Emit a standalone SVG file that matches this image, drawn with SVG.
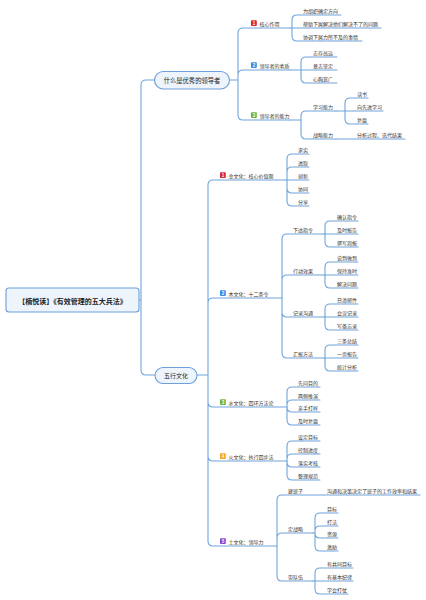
<svg xmlns="http://www.w3.org/2000/svg" width="426" height="600" viewBox="0 0 426 600">
<style>
.c{fill:none;stroke:#70a4dc;stroke-width:1.1;stroke-linecap:round}
.t{font-family:"Noto Sans CJK SC","Noto Sans",sans-serif;font-size:5px;fill:#333}
.bx{fill:#edf4fc;stroke:#6f9fd8;stroke-width:1.1}
.bt{font-family:"Noto Sans CJK SC","Noto Sans",sans-serif;fill:#222;text-anchor:middle;dominant-baseline:central}
.bn{font-family:"Liberation Sans",sans-serif;font-size:4.5px;font-weight:bold;fill:#fff;text-anchor:middle}
</style>
<rect width="426" height="600" fill="#fff"/>
<g id="connectors">
<path class="c" d="M139 300H141M141 300V85Q141 80 146 80H155M141 300V370Q141 375 146 375H155"/>
<path class="c" d="M229 80H238M238 80V33Q238 28 243 28H290M238 80V75Q238 70 243 70H290M238 80V115Q238 120 243 120H290"/>
<path class="c" d="M292 28V20Q292 15 297 15H341M290 28H381M292 28V36Q292 41 297 41H362"/>
<path class="c" d="M290 70H301M301 70V62Q301 57 306 57H337M301 70H337M301 70V78Q301 83 306 83H337"/>
<path class="c" d="M290 120H301M301 120V116Q301 111 306 111H336M301 120V134Q301 139 306 139H336"/>
<path class="c" d="M336 111H345M345 111V103Q345 98 350 98H368M336 111H383M345 111V119Q345 124 350 124H368"/>
<path class="c" d="M336 139H405"/>
<path class="c" d="M197 375H208M208 375V185Q208 180 213 180H287M208 375V303Q208 298 213 298H282M208 375V402Q208 407 213 407H287M208 375V456Q208 461 213 461H287M208 375V541Q208 546 213 546H277"/>
<path class="c" d="M287 180V159Q287 154 292 154H309M287 180V172Q287 167 292 167H309M287 180H309M287 180V188Q287 193 292 193H309M287 180V201Q287 206 292 206H309"/>
<path class="c" d="M282 298V239Q282 234 287 234H324M282 298V280Q282 275 287 275H324M282 298V312Q282 317 287 317H324M282 298V353Q282 358 287 358H324"/>
<path class="c" d="M324 234H325M325 234V226Q325 221 330 221H358M324 234H358M325 234V242Q325 247 330 247H358"/>
<path class="c" d="M324 275H325M325 275V267Q325 262 330 262H358M324 275H358M325 275V283Q325 288 330 288H358"/>
<path class="c" d="M324 317H325M325 317V309Q325 304 330 304H358M324 317H358M325 317V325Q325 330 330 330H358"/>
<path class="c" d="M324 358H325M325 358V350Q325 345 330 345H358M324 358H358M325 358V366Q325 371 330 371H358"/>
<path class="c" d="M287 407V392Q287 387 292 387H320M287 407V405Q287 400 292 400H320M287 407V407Q287 412 292 412H320M287 407V420Q287 425 292 425H320"/>
<path class="c" d="M287 461V446Q287 441 292 441H320M287 461V459Q287 454 292 454H320M287 461V462Q287 467 292 467H320M287 461V475Q287 480 292 480H320"/>
<path class="c" d="M277 546V500Q277 495 282 495H420M277 546V538Q277 533 282 533H313M277 546V576Q277 581 282 581H313"/>
<path class="c" d="M313 533H315M315 533V518Q315 513 320 513H338M315 533V531Q315 526 320 526H338M315 533V533Q315 538 320 538H338M315 533V546Q315 551 320 551H338"/>
<path class="c" d="M313 581H315M315 581V573Q315 568 320 568H353M313 581H353M315 581V589Q315 594 320 594H348"/>
</g>
<g id="root"><rect class="bx" x="6" y="288" width="133" height="24" rx="3"/><text class="bt" x="72.5" y="300.5" font-size="7" font-weight="bold">【楠悦读】《有效管理的五大兵法》</text></g>
<g id="leader"><rect class="bx" x="154.5" y="71.5" width="75" height="17.5" rx="8.75"/><text class="bt" x="192" y="80.5" font-size="6.3">什么是优秀的领导者</text></g>
<g id="wuxing"><rect class="bx" x="155" y="367.5" width="42" height="16" rx="8"/><text class="bt" x="176" y="375.5" font-size="6">五行文化</text></g>

<g id="n-hexin"><rect x="251" y="20.2" width="5.8" height="5.8" rx="0.8" fill="#d7262c"/><text class="bn" x="253.9" y="24.8">1</text><text class="t" x="259.5" y="25.5">核心作用</text></g>
<g id="n-h1"><text class="t" x="303" y="12.5">为组织确定方向</text></g>
<g id="n-h2"><text class="t" x="303" y="25.5">帮助下属解决他们解决不了的问题</text></g>
<g id="n-h3"><text class="t" x="303" y="38.5">协调下属力所不及的事情</text></g>

<g id="n-suzhi"><rect x="251" y="62.2" width="5.8" height="5.8" rx="0.8" fill="#3a8de6"/><text class="bn" x="253.9" y="66.8">2</text><text class="t" x="259.5" y="67.5">领导者的素质</text></g>
<g id="n-s1"><text class="t" x="313" y="54.5">志存高远</text></g>
<g id="n-s2"><text class="t" x="313" y="67.5">意志坚定</text></g>
<g id="n-s3"><text class="t" x="313" y="80.5">心胸宽广</text></g>

<g id="n-nengli"><rect x="251" y="112.2" width="5.8" height="5.8" rx="0.8" fill="#6db33f"/><text class="bn" x="253.9" y="116.8">3</text><text class="t" x="259.5" y="117.5">领导者的能力</text></g>
<g id="n-xuexi"><text class="t" x="313" y="108.5">学习能力</text></g>
<g id="n-x1"><text class="t" x="357" y="95.5">读书</text></g>
<g id="n-x2"><text class="t" x="357" y="108.5">向先进学习</text></g>
<g id="n-x3"><text class="t" x="357" y="121.5">复盘</text></g>
<g id="n-zhanlue"><text class="t" x="313" y="136.5">战略能力</text></g>
<g id="n-z1"><text class="t" x="357" y="136.5">分析过程、迭代结果</text></g>

<g id="n-jin"><rect x="220" y="172.2" width="5.8" height="5.8" rx="0.8" fill="#d7262c"/><text class="bn" x="222.9" y="176.8">1</text><text class="t" x="228.5" y="177.5">金文化：核心价值观</text></g>
<g id="n-j1"><text class="t" x="298" y="151.5">求实</text></g>
<g id="n-j2"><text class="t" x="298" y="164.5">进取</text></g>
<g id="n-j3"><text class="t" x="298" y="177.5">创新</text></g>
<g id="n-j4"><text class="t" x="298" y="190.5">协同</text></g>
<g id="n-j5"><text class="t" x="298" y="203.5">分享</text></g>

<g id="n-mu"><rect x="220" y="290.2" width="5.8" height="5.8" rx="0.8" fill="#3a8de6"/><text class="bn" x="222.9" y="294.8">2</text><text class="t" x="228.5" y="295.5">木文化：十二条令</text></g>
<g id="n-xiada"><text class="t" x="293" y="231.5">下达指令</text></g>
<g id="n-xd1"><text class="t" x="337" y="218.5">确认指令</text></g>
<g id="n-xd2"><text class="t" x="337" y="231.5">及时报告</text></g>
<g id="n-xd3"><text class="t" x="337" y="244.5">撰写周报</text></g>
<g id="n-xingdong"><text class="t" x="293" y="272.5">行动效果</text></g>
<g id="n-xg1"><text class="t" x="337" y="259.5">说到做到</text></g>
<g id="n-xg2"><text class="t" x="337" y="272.5">保持准时</text></g>
<g id="n-xg3"><text class="t" x="337" y="285.5">解决问题</text></g>
<g id="n-jilu"><text class="t" x="293" y="314.5">记录沟通</text></g>
<g id="n-jl1"><text class="t" x="337" y="301.5">日清邮件</text></g>
<g id="n-jl2"><text class="t" x="337" y="314.5">会议记录</text></g>
<g id="n-jl3"><text class="t" x="337" y="327.5">写备忘录</text></g>
<g id="n-huibao"><text class="t" x="293" y="355.5">汇报方法</text></g>
<g id="n-hb1"><text class="t" x="337" y="342.5">三条总结</text></g>
<g id="n-hb2"><text class="t" x="337" y="355.5">一页报告</text></g>
<g id="n-hb3"><text class="t" x="337" y="368.5">统计分析</text></g>

<g id="n-shui"><rect x="220" y="399.2" width="5.8" height="5.8" rx="0.8" fill="#6db33f"/><text class="bn" x="222.9" y="403.8">3</text><text class="t" x="228.5" y="404.5">水文化：四环方法论</text></g>
<g id="n-sh1"><text class="t" x="298" y="384.5">先问目的</text></g>
<g id="n-sh2"><text class="t" x="298" y="397.5">两侧推演</text></g>
<g id="n-sh3"><text class="t" x="298" y="409.5">亲手打样</text></g>
<g id="n-sh4"><text class="t" x="298" y="422.5">及时复盘</text></g>

<g id="n-huo"><rect x="220" y="453.2" width="5.8" height="5.8" rx="0.8" fill="#f5a623"/><text class="bn" x="222.9" y="457.8">4</text><text class="t" x="228.5" y="458.5">火文化：执行四步法</text></g>
<g id="n-hu1"><text class="t" x="298" y="438.5">设定目标</text></g>
<g id="n-hu2"><text class="t" x="298" y="451.5">控制进度</text></g>
<g id="n-hu3"><text class="t" x="298" y="464.5">落实考核</text></g>
<g id="n-hu4"><text class="t" x="298" y="477.5">整理规范</text></g>

<g id="n-tu"><rect x="220" y="538.2" width="5.8" height="5.8" rx="0.8" fill="#8b45d6"/><text class="bn" x="222.9" y="542.8">5</text><text class="t" x="228.5" y="543.5">土文化：领导力</text></g>
<g id="n-banzi"><text class="t" x="288" y="492.5">建班子</text></g>
<g id="n-bz1"><text class="t" x="327" y="492.5">沟通和决策决定了班子的工作效率和结果</text></g>
<g id="n-zhanlve"><text class="t" x="288" y="530.5">定战略</text></g>
<g id="n-zl1"><text class="t" x="327" y="510.5">目标</text></g>
<g id="n-zl2"><text class="t" x="327" y="523.5">打法</text></g>
<g id="n-zl3"><text class="t" x="327" y="535.5">资源</text></g>
<g id="n-zl4"><text class="t" x="327" y="548.5">激励</text></g>
<g id="n-duiwu"><text class="t" x="288" y="578.5">带队伍</text></g>
<g id="n-dw1"><text class="t" x="327" y="565.5">有共同目标</text></g>
<g id="n-dw2"><text class="t" x="327" y="578.5">有基本纪律</text></g>
<g id="n-dw3"><text class="t" x="327" y="591.5">学会打仗</text></g>
</svg>
